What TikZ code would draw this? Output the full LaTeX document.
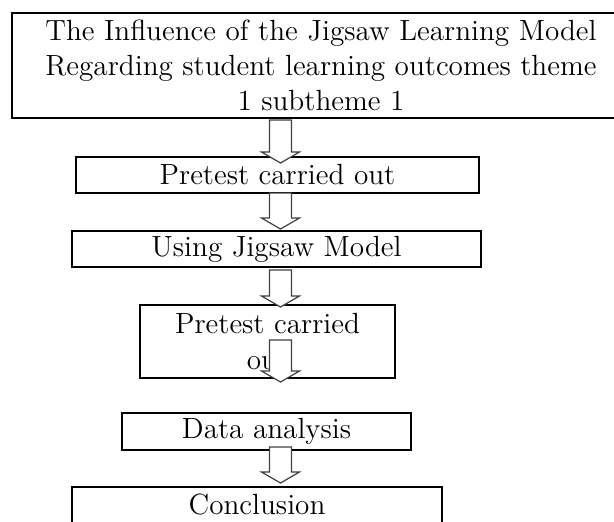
\documentclass[tikz,border=0pt]{standalone}
\usetikzlibrary{calc}

\tikzset{
  flowbox/.style={draw, line width=1pt, inner sep=0pt, align=center,
    font=\fontsize{14.6}{17.5}\selectfont},
  blockarrow/.style={draw=black!75, line width=0.6pt, fill=white,
    to path={($(\tikztostart)+(-11,0)$) -- ($(\tikztotarget)+(-11,-11)$)
      -- ($(\tikztotarget)+(-19,-11)$) -- (\tikztotarget)
      -- ($(\tikztotarget)+(19,-11)$) -- ($(\tikztotarget)+(11,-11)$)
      -- ($(\tikztostart)+(11,0)$) -- cycle}}
}

\begin{document}
\begin{tikzpicture}[x=0.5pt, y=-0.5pt]
    \useasboundingbox (0,0) rectangle (614,521);
    \clip (0,0) rectangle (614,521);

    % the boxes of the flow
    \node[flowbox, minimum width=309pt, minimum height=52.5pt] (title) at (321,65.5)
        {The Influence of the Jigsaw Learning Model\\Regarding student learning outcomes theme\\1 subtheme 1};
    \node[flowbox, minimum width=201.5pt, minimum height=18pt] (pretestA) at (277.5,175) {Pretest carried out};
    \node[flowbox, minimum width=204.5pt, minimum height=18pt] (jigsaw) at (276.5,249) {Using Jigsaw Model};
    \node[flowbox, minimum width=127.5pt, minimum height=36.5pt] (pretestB) at (267.5,341.5) {Pretest carried\\out};
    \node[flowbox, minimum width=144.5pt, minimum height=18.5pt] (analysis) at (266.5,431.5) {Data analysis};
    \node[flowbox, minimum width=185pt, minimum height=18pt] (conclusion) at (257,505) {Conclusion};

    % block arrows, drawn over the boxes
    \foreach \n/\ys/\ye in {1/120/163, 2/193/229, 3/270/307, 4/340/382, 5/447/483} {
        \coordinate (s\n) at (280.5,\ys);
        \coordinate (e\n) at (280.5,\ye);
        \draw[blockarrow] (s\n) to (e\n);
    }
\end{tikzpicture}
\end{document}
